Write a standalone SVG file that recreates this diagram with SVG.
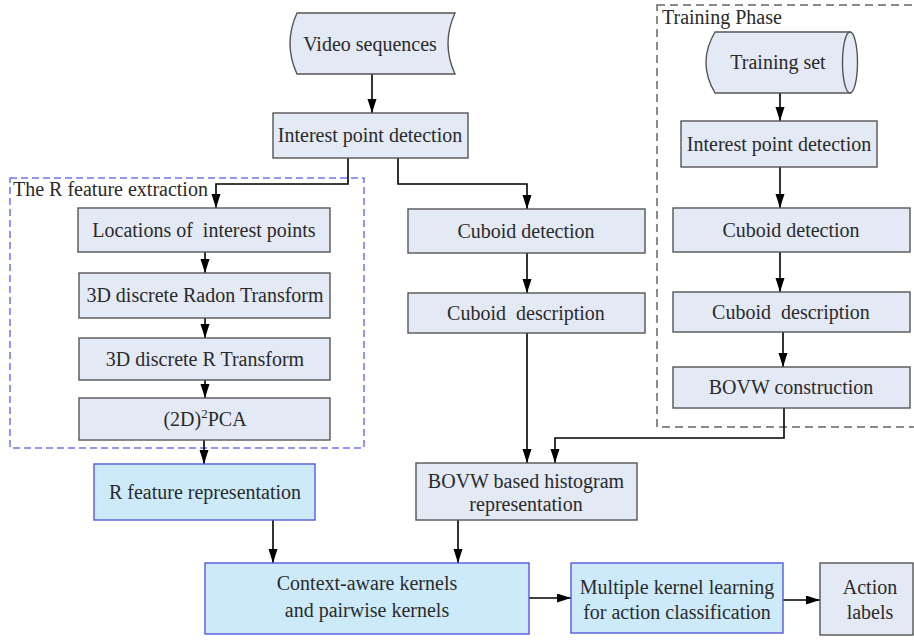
<svg xmlns="http://www.w3.org/2000/svg" width="914" height="641" viewBox="0 0 914 641">
<defs>
<marker id="ah" markerUnits="userSpaceOnUse" markerWidth="16" markerHeight="10" refX="14" refY="4.5" orient="auto">
<path d="M0,0 L14,4.5 L0,9 z" fill="#000"/>
</marker>
<style>
.g{fill:#e3e9f5;stroke:#555;stroke-width:1.4}
.b{fill:#cdeafb;stroke:#5757e0;stroke-width:1.4}
text{font-family:"Liberation Serif","Times New Roman",serif;font-size:20px;fill:#2a2a2a;white-space:pre}
.c{text-anchor:middle}
.ln{fill:none;stroke:#000;stroke-width:1.6}
.ar{marker-end:url(#ah)}
</style>
</defs>
<rect width="914" height="641" fill="#fff"/>

<g id="r-extraction">
<rect x="10" y="178" width="354" height="270" fill="none" stroke="#7373ee" stroke-width="1.5" stroke-dasharray="7,4"/>
<text x="13" y="196">The R feature extraction</text>
</g>
<g id="training-phase">
<rect x="657" y="5" width="270" height="422" fill="none" stroke="#666" stroke-width="1.5" stroke-dasharray="8,5"/>
<text x="662" y="24">Training Phase</text>
</g>

<g id="connectors">
<path class="ln ar" d="M372,74 V113"/>
<path class="ln ar" d="M348,158 V184 H216 V208"/>
<path class="ln ar" d="M398,158 V184 H527 V209"/>
<path class="ln ar" d="M205,252 V273"/>
<path class="ln ar" d="M205,318 V338"/>
<path class="ln ar" d="M205,380 V398"/>
<path class="ln ar" d="M204,440 V464"/>
<path class="ln ar" d="M527,253 V293"/>
<path class="ln ar" d="M527,333 V463"/>
<path class="ln ar" d="M273,520 V563"/>
<path class="ln ar" d="M458,520 V563"/>
<path class="ln ar" d="M784,408 V438 H555 V463"/>
<path class="ln ar" d="M780,92 V121"/>
<path class="ln ar" d="M780,167 V208"/>
<path class="ln ar" d="M780,252 V292"/>
<path class="ln ar" d="M783,332 V367"/>
<path class="ln ar" d="M529,598 H571"/>
<path class="ln ar" d="M783,600 H820"/>
</g>

<g id="video">
<path class="g" d="M297,13 H455 Q441,43.5 455,74 H297 Q283,43.5 297,13 z"/>
<text class="c" x="370" y="51">Video sequences</text>
</g>
<g id="ipd">
<rect class="g" x="273" y="113" width="195" height="45"/>
<text class="c" x="370" y="142">Interest point detection</text>
</g>
<g id="locations">
<rect class="g" x="78" y="208" width="252" height="44"/>
<text class="c" x="204" y="237" xml:space="preserve">Locations of  interest points</text>
</g>
<g id="radon">
<rect class="g" x="79" y="273" width="251" height="45"/>
<text class="c" x="205" y="302">3D discrete Radon Transform</text>
</g>
<g id="rtransform">
<rect class="g" x="79" y="338" width="251" height="42"/>
<text class="c" x="205" y="366">3D discrete R Transform</text>
</g>
<g id="pca">
<rect class="g" x="79" y="398" width="251" height="42"/>
<text class="c" x="205" y="426">(2D)<tspan font-size="13" dy="-8">2</tspan><tspan dy="8">PCA</tspan></text>
</g>
<g id="rfeature">
<rect class="b" x="94" y="464" width="221" height="56"/>
<text class="c" x="205" y="499">R feature representation</text>
</g>
<g id="cuboid-det">
<rect class="g" x="408" y="209" width="237" height="44"/>
<text class="c" x="526" y="238">Cuboid detection</text>
</g>
<g id="cuboid-desc">
<rect class="g" x="408" y="293" width="237" height="40"/>
<text class="c" x="526" y="320" xml:space="preserve">Cuboid  description</text>
</g>
<g id="bovw-hist">
<rect class="g" x="416" y="463" width="221" height="57"/>
<text class="c" x="526" y="488">BOVW based histogram</text>
<text class="c" x="526" y="511">representation</text>
</g>
<g id="context">
<rect class="b" x="205" y="563" width="324" height="71"/>
<text class="c" x="367" y="590">Context-aware kernels</text>
<text class="c" x="367" y="617">and pairwise kernels</text>
</g>
<g id="mkl">
<rect class="b" x="571" y="563" width="212" height="70"/>
<text class="c" x="677" y="594">Multiple kernel learning</text>
<text class="c" x="677" y="619">for action classification</text>
</g>
<g id="action">
<rect class="g" x="820" y="563" width="93" height="72"/>
<text class="c" x="870" y="594">Action</text>
<text class="c" x="870" y="619">labels</text>
</g>
<g id="training-set">
<path class="g" d="M715,32 H850 V93 H715 Q697,62.5 715,32 z"/>
<ellipse class="g" cx="850" cy="62.5" rx="7.5" ry="30.5"/>
<text class="c" x="778" y="69">Training set</text>
</g>
<g id="ipd2">
<rect class="g" x="681" y="121" width="196" height="46"/>
<text class="c" x="779" y="151">Interest point detection</text>
</g>
<g id="cuboid-det2">
<rect class="g" x="673" y="208" width="237" height="44"/>
<text class="c" x="791" y="237">Cuboid detection</text>
</g>
<g id="cuboid-desc2">
<rect class="g" x="673" y="292" width="237" height="40"/>
<text class="c" x="791" y="319" xml:space="preserve">Cuboid  description</text>
</g>
<g id="bovw-con">
<rect class="g" x="673" y="367" width="237" height="41"/>
<text class="c" x="791" y="394">BOVW construction</text>
</g>
</svg>
